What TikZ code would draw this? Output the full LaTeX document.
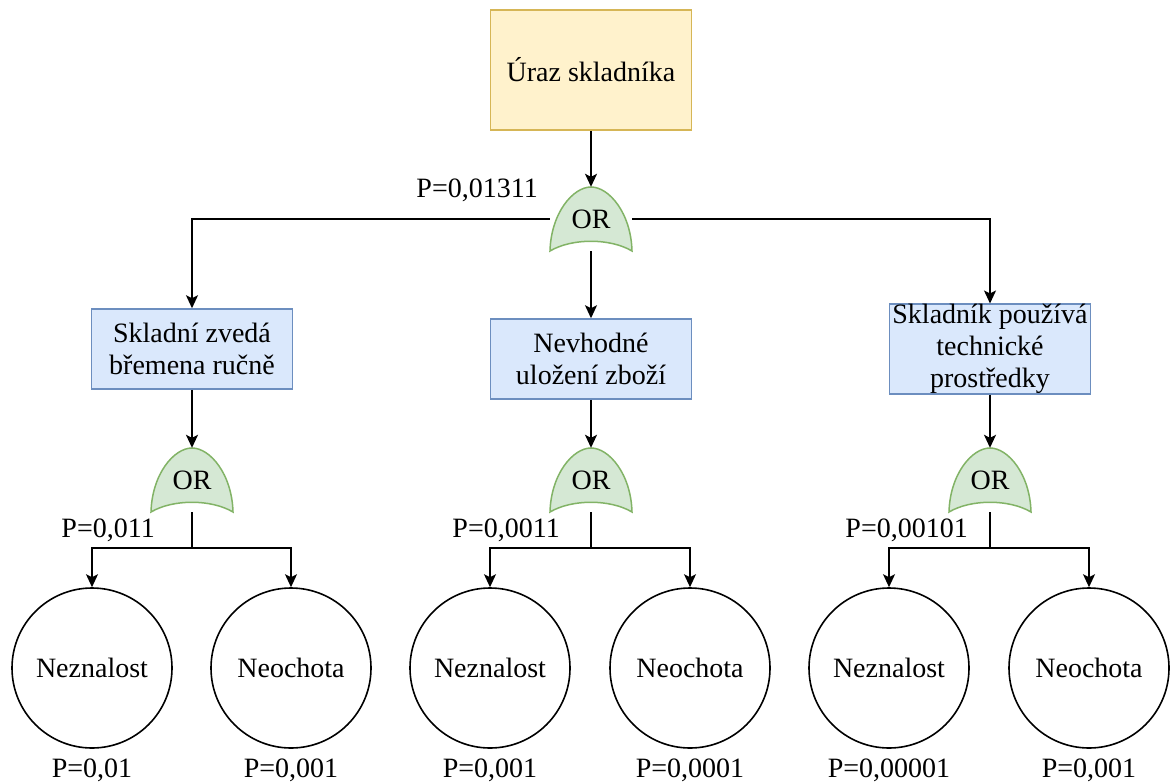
\documentclass[tikz,border=0pt]{standalone}
\usepackage{fontspec}
\setmainfont{Liberation Serif}
\usetikzlibrary{arrows.meta}

\definecolor{topfill}{HTML}{FFF2CC}
\definecolor{topdraw}{HTML}{D6B656}
\definecolor{evfill}{HTML}{DAE8FC}
\definecolor{evdraw}{HTML}{6C8EBF}
\definecolor{gatefill}{HTML}{D5E8D4}
\definecolor{gatedraw}{HTML}{82B366}

\tikzset{
  every node/.style={font=\fontsize{28}{32}\selectfont},
  topevent/.style={draw=topdraw, fill=topfill, line width=1.5pt,
    minimum width=201pt, minimum height=120pt, inner sep=0pt, align=center},
  evbox/.style={draw=evdraw, fill=evfill, line width=1.5pt,
    minimum width=201pt, minimum height=80pt, inner xsep=0pt, inner ysep=0pt, align=center},
  basic/.style={draw, circle, line width=1.6pt, minimum size=160pt, inner sep=0pt},
  gatenode/.style={minimum width=82pt, minimum height=64pt, inner sep=0pt},
  gateline/.style={draw=gatedraw, fill=gatefill, line width=1.5pt},
  plabel/.style={inner sep=0pt},
  conn/.style={line width=1.6pt},
  arr/.style={conn, -{Stealth[length=13pt,width=12pt,inset=3pt]}},
}

% OR gate: arched top, concave base, label on top
\newcommand\orgate[3]{%
  \path[gateline, shift={(#2,#3)}]
    (-41,32) .. controls (-40,-6) and (-18,-32) .. (0,-32)
    .. controls (18,-32) and (40,-6) .. (41,32)
    .. controls (19,19) and (-19,19) .. (-41,32) -- cycle;
  \node[gatenode] (#1) at (#2,#3) {OR};
}

\begin{document}
\begin{tikzpicture}[x=1pt, y=-1pt]
\useasboundingbox (0,0) rectangle (1170,782);

% top event
\node[topevent] (top) at (591,70) {Úraz skladníka};
\orgate{g0}{591}{219}
\node[plabel, anchor=base east] (p0) at (538,197) {P=0,01311};

% intermediate events
\node[evbox] (b1) at (192,349) {Skladní zvedá\\břemena ručně};
\node[evbox] (b2) at (591,359) {Nevhodné\\uložení zboží};
\node[evbox] (b3) at (990,349) {Skladník používá\\technické\\prostředky};

\draw[arr] (top.south) -- (g0.north);
\draw[arr] (g0.west) -| (b1.north);
\draw[arr] (g0.east) -| (b3.north);
\draw[arr] (g0.south) -- (b2.north);

% second-level gates
\orgate{g1}{192}{480}
\orgate{g2}{591}{480}
\orgate{g3}{990}{480}
\node[plabel, anchor=base east] (p1) at (155,537) {P=0,011};
\node[plabel, anchor=base east] (p2) at (560,537) {P=0,0011};
\node[plabel, anchor=base east] (p3) at (968,537) {P=0,00101};

\draw[arr] (b1.south) -- (g1.north);
\draw[arr] (b2.south) -- (g2.north);
\draw[arr] (b3.south) -- (g3.north);

% basic events
\node[basic] (c1) at (92,668) {Neznalost};
\node[basic] (c2) at (291,668) {Neochota};
\node[basic] (c3) at (490,668) {Neznalost};
\node[basic] (c4) at (690,668) {Neochota};
\node[basic] (c5) at (889,668) {Neznalost};
\node[basic] (c6) at (1089,668) {Neochota};

\coordinate (j1) at (192,548);
\coordinate (j2) at (591,548);
\coordinate (j3) at (990,548);
\draw[conn] (g1.south) -- (j1);
\draw[conn] (g2.south) -- (j2);
\draw[conn] (g3.south) -- (j3);
\draw[arr] (j1) -| (c1.north);
\draw[arr] (j1) -| (c2.north);
\draw[arr] (j2) -| (c3.north);
\draw[arr] (j2) -| (c4.north);
\draw[arr] (j3) -| (c5.north);
\draw[arr] (j3) -| (c6.north);

% probabilities of basic events
\node[plabel, anchor=base] (q1) at (92,777) {P=0,01};
\node[plabel, anchor=base] (q2) at (291,777) {P=0,001};
\node[plabel, anchor=base] (q3) at (490,777) {P=0,001};
\node[plabel, anchor=base] (q4) at (690,777) {P=0,0001};
\node[plabel, anchor=base] (q5) at (889,777) {P=0,00001};
\node[plabel, anchor=base] (q6) at (1089,777) {P=0,001};
\end{tikzpicture}
\end{document}
